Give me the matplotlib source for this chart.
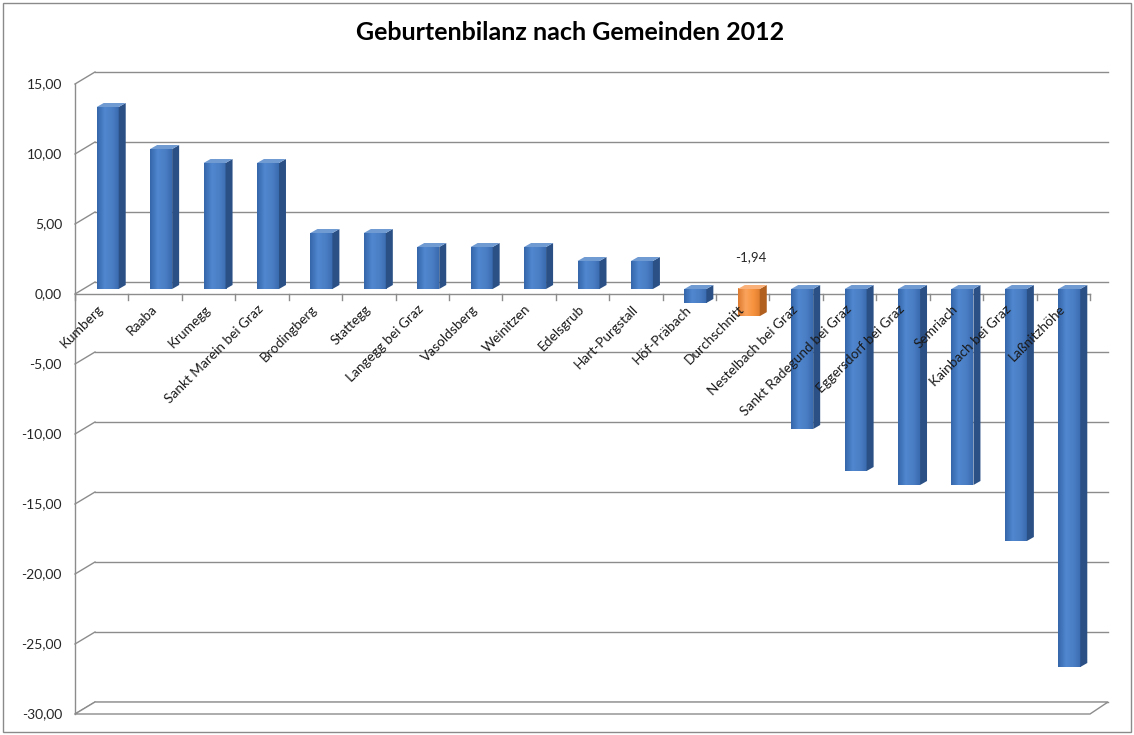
import numpy as np
import matplotlib
matplotlib.use("Agg")
import matplotlib.pyplot as plt
import matplotlib.patches as patches

plt.rcParams['font.family'] = ['Lato', 'DejaVu Sans']

# Geburtenbilanz je Gemeinde (2012)
gemeinden = ["Kumberg", "Raaba", "Krumegg", "Sankt Marein bei Graz", "Brodingberg",
             "Stattegg", "Langegg bei Graz", "Vasoldsberg", "Weinitzen", "Edelsgrub",
             "Hart-Purgstall", "Höf-Präbach", "Durchschnitt", "Nestelbach bei Graz",
             "Sankt Radegund bei Graz", "Eggersdorf bei Graz", "Semriach",
             "Kainbach bei Graz", "Laßnitzhöhe"]
bilanz = [13, 10, 9, 9, 4, 4, 3, 3, 3, 2, 2, -1, -1.94, -10, -13, -14, -14, -18, -27]
highlight = "Durchschnitt"
y_ticks = [15, 10, 5, 0, -5, -10, -15, -20, -25, -30]

W, H = 1134, 735
fig = plt.figure(figsize=(W / 100, H / 100), dpi=100)
ax_l, ax_b, ax_w, ax_h = 75, 21, 1015, 630
ax = fig.add_axes([ax_l / W, ax_b / H, ax_w / W, ax_h / H])
n = len(gemeinden)
ymin, ymax = -30, 15
ax.set_xlim(0, n)
ax.set_ylim(ymin, ymax)
ax.axis('off')

# pixel -> data units
px = n / ax_w
py = (ymax - ymin) / ax_h

grid_c = '#8c8c8c'
bdx, bdy = 20 * px, 12 * py   # back wall offset

# back gridlines and the diagonal links to the front axis
for t in y_ticks:
    ax.plot([bdx, n + bdx * 0.9], [t + bdy, t + bdy], color=grid_c, lw=1.0, zorder=1, clip_on=False)
    ax.plot([0, bdx], [t, t + bdy], color=grid_c, lw=1.0, zorder=1, clip_on=False)
    ax.text(-13 * px, t, f"{t:.2f}".replace('.', ','), ha='right', va='center',
            fontsize=10, color='#262626')

# floor
floor = patches.Polygon([(0, ymin), (n, ymin), (n + bdx * 0.9, ymin + bdy), (bdx, ymin + bdy)],
                        closed=True, fc='white', ec=grid_c, lw=1.0, zorder=1, clip_on=False)
ax.add_patch(floor)

# front value axis and category axis at zero
ax.plot([0, 0], [ymin, ymax], color=grid_c, lw=1.0, zorder=2, clip_on=False)
ax.plot([0, n], [0, 0], color=grid_c, lw=1.0, zorder=2, clip_on=False)
for i in range(n + 1):
    ax.plot([i, i], [0, -6 * py], color=grid_c, lw=1.0, zorder=2, clip_on=False)

# 3d-style columns
fw = 22 * px          # front face width
ddx, ddy = 7 * px, 4 * py   # column depth
ox, oy = -5 * px, 5 * py    # front face shift from category centre

blue = dict(front=['#3566aa', '#5087cf', '#4a7ec4', '#3a6bb0'], side='#2a5086', top='#6f9ad2')
orange = dict(front=['#dc7a2e', '#fba35c', '#f7933f', '#e07e30'], side='#b1601f', top='#fbb27a')

for i, (name, v) in enumerate(zip(gemeinden, bilanz)):
    col = orange if name == highlight else blue
    x0 = i + 0.5 + ox
    y_lo, y_hi = min(0, v) + oy, max(0, v) + oy
    # front face with a horizontal gradient
    grad = np.linspace(0, 1, 64)
    cmap = matplotlib.colors.LinearSegmentedColormap.from_list(
        'f', list(zip([0, 0.35, 0.7, 1], col['front'])))
    im = ax.imshow(grad[None, :], cmap=cmap, aspect='auto',
                   extent=[x0, x0 + fw, y_lo, y_hi], zorder=3, clip_on=False)
    rect = patches.Rectangle((x0, y_lo), fw, y_hi - y_lo, fc='none', ec='none',
                             transform=ax.transData)
    ax.add_patch(rect)
    im.set_clip_path(rect)
    side = patches.Polygon([(x0 + fw, y_lo), (x0 + fw + ddx, y_lo + ddy),
                            (x0 + fw + ddx, y_hi + ddy), (x0 + fw, y_hi)],
                           closed=True, fc=col['side'], ec='none', zorder=3, clip_on=False)
    top = patches.Polygon([(x0, y_hi), (x0 + fw, y_hi), (x0 + fw + ddx, y_hi + ddy),
                           (x0 + ddx, y_hi + ddy)],
                          closed=True, fc=col['top'], ec='none', zorder=3, clip_on=False)
    ax.add_patch(side)
    ax.add_patch(top)
    if name == highlight:
        ax.text(x0 + fw / 2 + 2 * px, oy + 26 * py, f"{v:.2f}".replace('.', ','),
                ha='center', va='bottom', fontsize=9.5, color='#262626')

ax.set_xlim(0, n)
ax.set_ylim(ymin, ymax)

# rotated category labels
for i, name in enumerate(gemeinden):
    ax.text(i + 0.5 + 4 * px, -9 * py, name, rotation=45, ha='right', va='top',
            fontsize=9.8, color='#1a1a1a', zorder=5)

fig.text(570 / W, 1 - 33 / H, "Geburtenbilanz nach Gemeinden 2012", ha='center', va='center',
         fontsize=18, fontweight='bold', color='black')

# chart area border
fig.add_artist(patches.Rectangle((3 / W, 3 / H), 1 - 6 / W, 1 - 6 / H, transform=fig.transFigure,
                                 fc='none', ec='#8a8a8a', lw=1.0))

fig.savefig('out.png', dpi=100)
